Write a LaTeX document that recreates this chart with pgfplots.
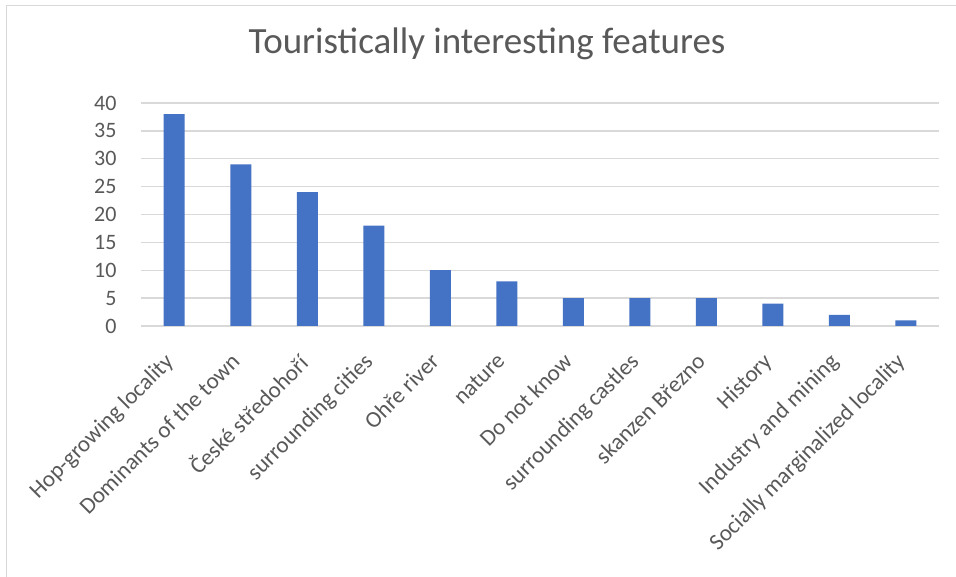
\documentclass[border=0pt]{standalone}
\usepackage{fontspec}
\setmainfont{Carlito}
\usepackage{pgfplots}
\pgfplotsset{compat=1.18}
\definecolor{barblue}{HTML}{4472C4}
\definecolor{txtgray}{HTML}{595959}
\definecolor{gridgray}{HTML}{D9D9D9}
\begin{document}
\begin{tikzpicture}
\useasboundingbox (0pt,0pt) rectangle (956pt,577pt);
\fill[white] (0pt,0pt) rectangle (956pt,577pt);
\draw[gridgray, line width=1.5pt] (6.5pt,0pt) -- (6.5pt,571.5pt) -- (956pt,571.5pt);
\node[font=\fontsize{37}{43}\selectfont, text=txtgray, anchor=base] at (487pt,523pt) {Touristically interesting features};
\begin{axis}[
  at={(141pt,251pt)}, anchor=south west, scale only axis, width=798pt, height=223pt,
  xmin=-0.5, xmax=11.5, ymin=0, ymax=40, ytick={0,5,...,40},
  xtick={0,...,11},
  xticklabels={Hop-growing locality, Dominants of the town, České středohoří, surrounding cities, Ohře river, nature, Do not know, surrounding castles, skanzen Březno, History, Industry and mining, Socially marginalized locality},
  ymajorgrids, major grid style={gridgray, line width=1.3pt},
  axis line style={draw=none}, tick style={draw=none},
  /pgf/number format/assume math mode=true,
  xticklabel style={font=\fontsize{23}{27}\selectfont, text=txtgray, xshift=-11pt, yshift=-20pt, rotate=45, anchor=north east, inner sep=1pt},
  yticklabel style={font=\fontsize{22}{26}\selectfont, text=txtgray, xshift=-21pt},
  ybar, bar width=21pt,
]
\addplot[fill=barblue, draw=none] coordinates {(0,38) (1,29) (2,24) (3,18) (4,10) (5,8) (6,5) (7,5) (8,5) (9,4) (10,2) (11,1)};
\end{axis}
\end{tikzpicture}
\end{document}
